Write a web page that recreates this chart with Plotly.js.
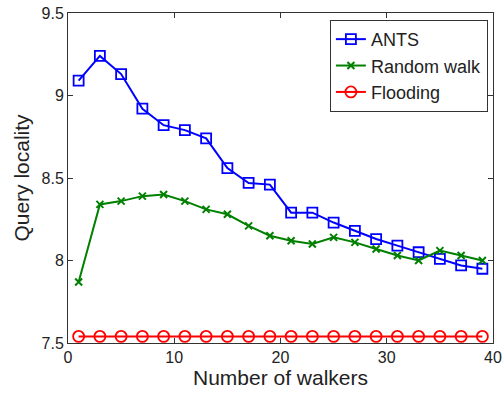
<!DOCTYPE html>
<html>
<head>
<meta charset="utf-8">
<script src="https://cdn.plot.ly/plotly-3.0.1.min.js"></script>
<style>html,body{margin:0;padding:0;background:#fff;}#chart{width:503px;height:396px;}</style>
</head>
<body>
<div id="chart"></div>
<script>
const walkers = [1,3,5,7,9,11,13,15,17,19,21,23,25,27,29,31,33,35,37,39];
const ants = [9.09,9.24,9.13,8.92,8.82,8.79,8.74,8.56,8.47,8.46,8.29,8.29,8.23,8.18,8.13,8.09,8.05,8.01,7.97,7.95];
const randomWalk = [7.87,8.34,8.36,8.39,8.40,8.36,8.31,8.28,8.21,8.15,8.12,8.10,8.14,8.11,8.07,8.03,8.00,8.06,8.03,8.00];
const flooding = [7.54,7.54,7.54,7.54,7.54,7.54,7.54,7.54,7.54,7.54,7.54,7.54,7.54,7.54,7.54,7.54,7.54,7.54,7.54,7.54];
const xTicks = [0,10,20,30,40];
const yTicks = [7.5,8,8.5,9,9.5];
const yTickText = ['7.5','8','8.5','9','9.5'];

const font = {family: 'Liberation Sans, Arial, sans-serif', color: '#222'};
const traces = [
  {x: walkers, y: ants, name: 'ANTS', mode: 'lines+markers',
   line: {color: '#0000ff', width: 2},
   marker: {symbol: 'square-open', size: 10, color: '#0000ff', line: {width: 1.8, color: '#0000ff'}}},
  {x: walkers, y: randomWalk, name: 'Random walk', mode: 'lines+markers',
   line: {color: '#008000', width: 2},
   marker: {symbol: 'x-thin-open', size: 7, color: '#008000', line: {width: 2, color: '#008000'}}},
  {x: walkers, y: flooding, name: 'Flooding', mode: 'lines+markers',
   line: {color: '#ff0000', width: 2},
   marker: {symbol: 'circle-open', size: 11, color: '#ff0000', line: {width: 1.8, color: '#ff0000'}}}
];
const axisCommon = {
  showgrid: false, zeroline: false, showline: true, mirror: 'ticks',
  linecolor: '#333', linewidth: 1, ticks: 'inside', ticklen: 5, tickcolor: '#333',
  tickfont: {family: font.family, size: 16, color: '#222'}
};
const layout = {
  width: 503, height: 396,
  margin: {l: 68, r: 10, t: 13, b: 53},
  paper_bgcolor: '#fff', plot_bgcolor: '#fff',
  showlegend: true,
  legend: {x: 0.988, y: 0.979, xanchor: 'right', yanchor: 'top',
    bgcolor: '#fff', bordercolor: '#333', borderwidth: 1,
    font: {family: font.family, size: 18, color: '#222'}, tracegroupgap: 0},
  xaxis: Object.assign({}, axisCommon, {range: [0, 40], tickvals: xTicks, ticktext: xTicks.map(String),
    title: {text: 'Number of walkers', font: {family: font.family, size: 21, color: '#222'}, standoff: 4}}),
  yaxis: Object.assign({}, axisCommon, {range: [7.5, 9.5], tickvals: yTicks, ticktext: yTickText,
    title: {text: 'Query locality', font: {family: font.family, size: 21, color: '#222'}, standoff: 6}})
};
Plotly.newPlot('chart', traces, layout, {displayModeBar: false, staticPlot: true});
</script>
</body>
</html>
